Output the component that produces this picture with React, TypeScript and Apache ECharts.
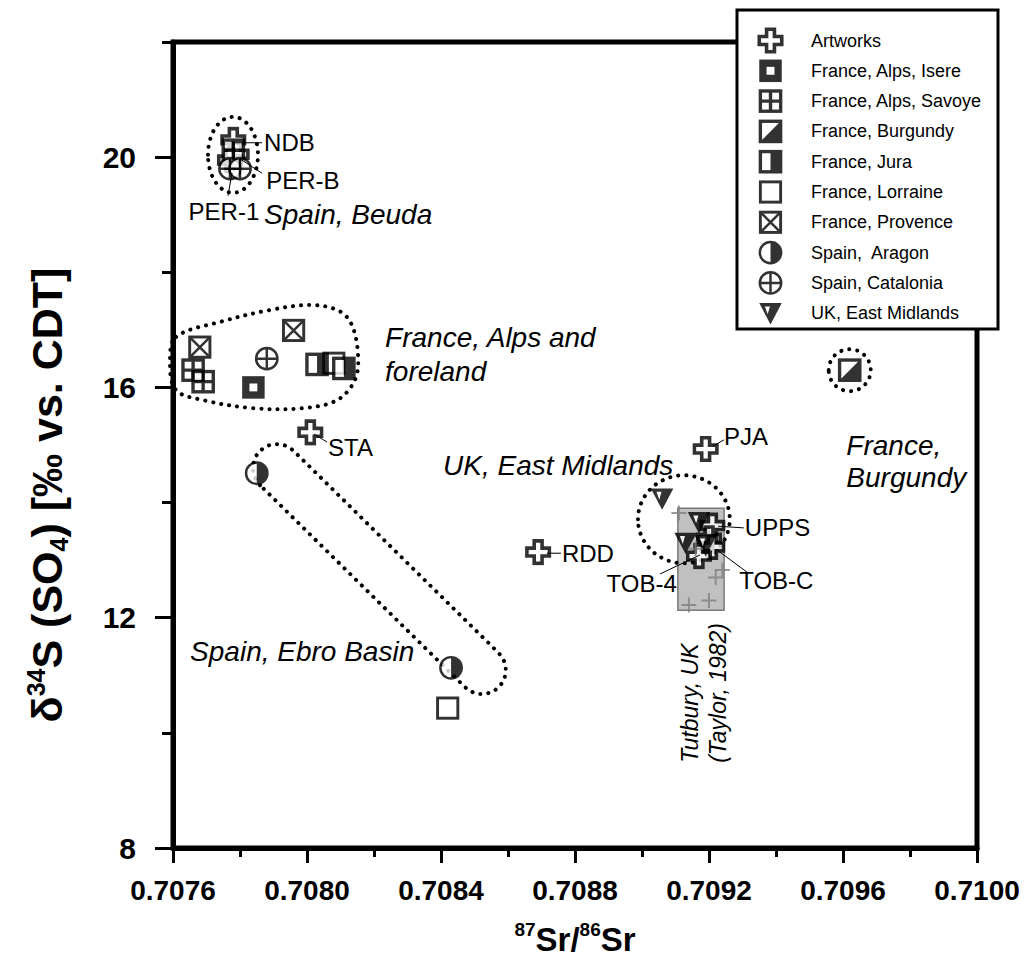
import React, { useEffect, useRef } from "react";
import * as echarts from "echarts";

const FONT = '"Liberation Sans", Arial, Helvetica, sans-serif';

// ---------- axis ticks ----------
const xMin = 0.7076;
const xMax = 0.71;
const xStep = 0.0004;
const yMin = 8;
const yMax = 22;
const yMajor = [8, 12, 16, 20];
const yMinor = [10, 14, 18, 22];

// ---------- legend categories ----------
const legendNames = [
  "Artworks",
  "France, Alps, Isere",
  "France, Alps, Savoye",
  "France, Burgundy",
  "France, Jura",
  "France, Lorraine",
  "France, Provence",
  "Spain,  Aragon",
  "Spain, Catalonia",
  "UK, East Midlands",
];

// ---------- data (87Sr/86Sr, d34S) ----------
const artworks = [
  [0.70778, 20.3], [0.70779, 20.05], [0.70777, 19.95], [0.70801, 15.22],
  [0.70869, 13.14], [0.70919, 14.93], [0.70921, 13.6], [0.7092, 13.38],
  [0.70921, 13.23], [0.70917, 13.07],
];
const isere = [[0.70784, 16.0]];
const savoye = [[0.70766, 16.3], [0.70769, 16.1], [0.70778, 20.12]];
const burgundy = [[0.70962, 16.3]];
const jura = [[0.70803, 16.4], [0.70811, 16.33]];
const lorraine = [[0.70808, 16.42], [0.70842, 10.43]];
const provence = [[0.70768, 16.7], [0.70796, 16.99]];
const aragon = [[0.70785, 14.51], [0.70843, 11.13]];
const catalonia = [[0.70788, 16.5], [0.70777, 19.8], [0.7078, 19.8]];
const ukEastMidlands = [[0.70906, 14.07], [0.70917, 13.66], [0.70913, 13.3], [0.70919, 13.26]];
const tutbury = [
  [0.70911, 13.82], [0.70916, 13.2], [0.70924, 12.83], [0.70922, 12.7],
  [0.7092, 12.3], [0.70914, 12.22],
];
const tutburyBox = [0.709107, 12.13, 0.709245, 13.9];

const seriesData = [artworks, isere, savoye, burgundy, jura, lorraine, provence, aragon, catalonia, ukEastMidlands];

// ---------- point labels (leader line from -> to, text at) ----------
const pointLabels = ["NDB", "PER-B", "PER-1", "STA", "RDD", "PJA", "UPPS", "TOB-C", "TOB-4"];
const labelFrom = [
  [0.70778, 20.25], [0.7078, 19.97], [0.707776, 19.72], [0.708021, 15.19], [0.708716, 13.12],
  [0.709212, 14.98], [0.709227, 13.59], [0.709221, 13.19], [0.709173, 13.09],
];
const labelTo = [
  [0.707866, 20.25], [0.707866, 19.72], [0.707764, 19.33], [0.70806, 15.05], [0.708758, 13.12],
  [0.709245, 15.09], [0.709304, 13.56], [0.709316, 12.78], [0.709054, 12.76],
];
const labelAt = [
  [0.707872, 20.25], [0.707878, 19.6], [0.707752, 19.05], [0.708063, 14.95], [0.708761, 13.12],
  [0.709245, 15.14], [0.709307, 13.56], [0.70929, 12.64], [0.709104, 12.6],
];
const labelAlign = ["left", "left", "center", "left", "left", "left", "left", "left", "right"];

// ---------- region notes ----------
const regionNotes = ["Spain, Beuda", "France, Alps and", "foreland", "UK, East Midlands", "France,", "Burgundy", "Spain, Ebro Basin"];
const regionAt = [
  [0.707872, 19.0], [0.708233, 16.86], [0.708233, 16.27], [0.708406, 14.64],
  [0.70961, 15.0], [0.70961, 14.44], [0.707651, 11.42],
];
const verticalNotes = ["Tutbury, UK", "(Taylor, 1982)"];
const verticalAt = [[0.709143, 9.48], [0.709227, 9.48]];

// ---------- dotted outlines ----------
const ellipses = [
  [0.707779, 20.04, 0.0000746, 0.66],
  [0.709125, 13.71, 0.000137, 0.764],
  [0.70962, 16.3, 0.0000627, 0.365],
];
const blobX = [0.707609, 0.70774, 0.70789, 0.708009, 0.70809, 0.708131, 0.708152, 0.708143, 0.70809, 0.707988, 0.707839, 0.70769, 0.707609, 0.707591];
const blobY = [16.876, 17.137, 17.345, 17.432, 17.345, 17.12, 16.6, 16.13, 15.78, 15.64, 15.64, 15.78, 15.955, 16.44];
const stadiumEnds = [[0.70791, 14.6], [0.708522, 11.09]];

// ---------- marker icons ----------
const svgIcon = (inner: string) =>
  "image://data:image/svg+xml;charset=utf-8," +
  encodeURIComponent(
    `<svg xmlns="http://www.w3.org/2000/svg" width="24" height="24" viewBox="0 0 24 24">${inner}</svg>`
  );
const sq = (w: number) => `<rect x="3" y="3" width="18" height="18" fill="#fff" stroke="#000" stroke-width="${w}"/>`;
const icons = [
  svgIcon(`<path d="M8.5,2H15.5V8.5H22V15.5H15.5V22H8.5V15.5H2V8.5H8.5Z" fill="#fff" stroke="#000" stroke-width="3.2"/>`),
  svgIcon(`<rect x="2" y="2" width="20" height="20" fill="#000"/><rect x="8.5" y="8.5" width="7" height="7" fill="#fff"/>`),
  svgIcon(sq(3) + `<path d="M12,3V21M3,12H21" stroke="#000" stroke-width="3"/>`),
  svgIcon(sq(3) + `<path d="M21,3V21H3Z" fill="#000"/>`),
  svgIcon(sq(3) + `<rect x="12" y="3" width="9" height="18" fill="#000"/>`),
  svgIcon(sq(2.6)),
  svgIcon(sq(2.6) + `<path d="M3,3L21,21M21,3L3,21" stroke="#000" stroke-width="2.2"/>`),
  svgIcon(`<circle cx="12" cy="12" r="9.5" fill="#fff" stroke="#000" stroke-width="2.2"/><path d="M12,2.5A9.5,9.5 0 0 1 12,21.5Z" fill="#000"/>`),
  svgIcon(`<circle cx="12" cy="12" r="9.5" fill="#fff" stroke="#000" stroke-width="2.2"/><path d="M12,2.5V21.5M2.5,12H21.5" stroke="#000" stroke-width="2.2"/>`),
  svgIcon(`<path d="M2,3H22L12,22Z" fill="#000"/><path d="M7,6H11.5L9.5,13Z" fill="#fff"/>`),
];

const dotted = { fill: "none", stroke: "#000", lineWidth: 4, lineDash: [0.1, 8], lineCap: "round" };

function buildOption() {
  const scatterSeries = legendNames.map((name, i) => ({
    type: "scatter",
    name,
    data: seriesData[i],
    symbol: icons[i],
    symbolSize: 27,
    z: i === 4 ? 4 : 3,
    silent: true,
    emphasis: { disabled: true },
  }));

  return {
    animation: false,
    backgroundColor: "#fff",
    grid: {
      left: 173,
      right: 51,
      top: 42,
      bottom: 115,
      show: true,
      borderColor: "#000",
      borderWidth: 5,
      backgroundColor: "transparent",
    },
    xAxis: {
      type: "value",
      min: xMin,
      max: xMax,
      interval: xStep,
      name: "{sup|87}{b|Sr/}{sup|86}{b|Sr}",
      nameLocation: "middle",
      nameGap: 72,
      nameTextStyle: {
        rich: {
          b: { fontSize: 33, fontWeight: "bold", fontFamily: FONT, color: "#000", lineHeight: 38 },
          sup: { fontSize: 19, fontWeight: "bold", fontFamily: FONT, color: "#000", lineHeight: 22, verticalAlign: "top" },
        },
      },
      axisLine: { show: true, lineStyle: { color: "#000", width: 5 } },
      axisTick: { show: true, length: 15, lineStyle: { color: "#000", width: 3 } },
      minorTick: { show: true, splitNumber: 2, length: 9, lineStyle: { color: "#000", width: 3 } },
      splitLine: { show: false },
      axisLabel: {
        margin: 28,
        fontSize: 28,
        fontWeight: "bold",
        fontFamily: FONT,
        color: "#000",
        formatter: (v: number) => v.toFixed(4),
      },
    },
    yAxis: [
      {
        type: "value",
        min: yMin,
        max: yMax,
        position: "left",
        name: "{b|δ}{sup|34}{b|S (SO}{sub|4}{b|) [‰ vs. CDT]}",
        nameLocation: "middle",
        nameGap: 102,
        nameRotate: 90,
        nameTextStyle: {
          padding: [0, 100, 0, 0],
          rich: {
            b: { fontSize: 43, fontWeight: "bold", fontFamily: FONT, color: "#000", lineHeight: 48 },
            sup: { fontSize: 25, fontWeight: "bold", fontFamily: FONT, color: "#000", lineHeight: 28, verticalAlign: "top" },
            sub: { fontSize: 25, fontWeight: "bold", fontFamily: FONT, color: "#000", lineHeight: 28, verticalAlign: "bottom" },
          },
        },
        axisLine: { show: true, lineStyle: { color: "#000", width: 5 } },
        axisTick: { show: true, length: 18, lineStyle: { color: "#000", width: 3 }, customValues: yMajor },
        splitLine: { show: false },
        axisLabel: {
          margin: 37,
          fontSize: 30,
          fontWeight: "bold",
          fontFamily: FONT,
          color: "#000",
          customValues: yMajor,
        },
      },
      {
        type: "value",
        min: yMin,
        max: yMax,
        position: "left",
        axisLine: { show: false },
        axisLabel: { show: false },
        splitLine: { show: false },
        axisTick: { show: true, length: 11, lineStyle: { color: "#000", width: 3 }, customValues: yMinor },
      },
    ],
    legend: {
      data: legendNames.map((n, i) => ({ name: n, icon: icons[i] })),
      orient: "vertical",
      left: 757,
      top: 27,
      padding: 0,
      itemWidth: 27,
      itemHeight: 27,
      itemGap: 3.3,
      selectedMode: false,
      z: 10,
      textStyle: { fontSize: 18, fontFamily: FONT, color: "#000", padding: [0, 0, 0, 22] },
    },
    graphic: {
      elements: [
        {
          type: "rect",
          z: 8,
          shape: { x: 737, y: 10, width: 261, height: 319 },
          style: { fill: "#fff", stroke: "#000", lineWidth: 3 },
          silent: true,
        },
      ],
    },
    series: [
      // Tutbury shaded range
      {
        type: "custom",
        silent: true,
        z: 1,
        data: [[tutburyBox[0], tutburyBox[1]]],
        renderItem: (params: any, api: any) => {
          const p0 = api.coord([tutburyBox[0], tutburyBox[3]]);
          const p1 = api.coord([tutburyBox[2], tutburyBox[1]]);
          return {
            type: "rect",
            shape: { x: p0[0], y: p0[1], width: p1[0] - p0[0], height: p1[1] - p0[1] },
            style: { fill: "#c0c0c0", stroke: "#7a7a7a", lineWidth: 1.5 },
          };
        },
      },
      // dotted ellipses
      {
        type: "custom",
        silent: true,
        z: 1,
        data: ellipses.map((e) => [e[0], e[1]]),
        renderItem: (params: any, api: any) => {
          const e = ellipses[params.dataIndex];
          const c = api.coord([e[0], e[1]]);
          const s = api.size([e[2], e[3]]);
          return { type: "ellipse", shape: { cx: c[0], cy: c[1], rx: s[0], ry: s[1] }, style: dotted };
        },
      },
      // France Alps blob
      {
        type: "custom",
        silent: true,
        z: 1,
        data: [[blobX[0], blobY[0]]],
        renderItem: (params: any, api: any) => {
          const pts = blobX.map((x, i) => api.coord([x, blobY[i]]));
          return { type: "polygon", shape: { points: pts, smooth: 0.35 }, style: dotted };
        },
      },
      // Ebro basin stadium
      {
        type: "custom",
        silent: true,
        z: 1,
        data: [stadiumEnds[0]],
        renderItem: (params: any, api: any) => {
          const a = api.coord(stadiumEnds[0]);
          const b = api.coord(stadiumEnds[1]);
          const r = 24;
          const ang = Math.atan2(b[1] - a[1], b[0] - a[0]);
          const pts: number[][] = [];
          const n = 14;
          for (let k = 0; k <= n; k++) {
            const t = ang + Math.PI / 2 + (Math.PI * k) / n;
            pts.push([a[0] + r * Math.cos(t), a[1] + r * Math.sin(t)]);
          }
          for (let k = 0; k <= n; k++) {
            const t = ang - Math.PI / 2 + (Math.PI * k) / n;
            pts.push([b[0] + r * Math.cos(t), b[1] + r * Math.sin(t)]);
          }
          return { type: "polygon", shape: { points: pts }, style: dotted };
        },
      },
      ...scatterSeries,
      // Tutbury samples
      {
        type: "scatter",
        name: "Tutbury",
        data: tutbury,
        symbol: "path://M0,5H10M5,0V10",
        symbolSize: 15,
        silent: true,
        z: 4,
        emphasis: { disabled: true },
        itemStyle: { color: "none", borderColor: "#808080", borderWidth: 2 },
      },
      // point labels with leader lines
      {
        type: "custom",
        silent: true,
        z: 5,
        data: labelAt,
        renderItem: (params: any, api: any) => {
          const i = params.dataIndex;
          const f = api.coord(labelFrom[i]);
          const t = api.coord(labelTo[i]);
          const p = api.coord(labelAt[i]);
          return {
            type: "group",
            children: [
              { type: "line", shape: { x1: f[0], y1: f[1], x2: t[0], y2: t[1] }, style: { stroke: "#000", lineWidth: 1 } },
              {
                type: "text",
                x: p[0],
                y: p[1],
                style: {
                  text: pointLabels[i],
                  fill: "#000",
                  fontSize: 24,
                  fontFamily: FONT,
                  align: labelAlign[i],
                  verticalAlign: "middle",
                },
              },
            ],
          };
        },
      },
      // region notes
      {
        type: "custom",
        silent: true,
        z: 5,
        data: regionAt,
        renderItem: (params: any, api: any) => {
          const i = params.dataIndex;
          const p = api.coord(regionAt[i]);
          return {
            type: "text",
            x: p[0],
            y: p[1],
            style: {
              text: regionNotes[i],
              fill: "#000",
              fontSize: 28,
              fontStyle: "italic",
              fontFamily: FONT,
              align: "left",
              verticalAlign: "middle",
            },
          };
        },
      },
      // vertical notes
      {
        type: "custom",
        silent: true,
        z: 5,
        data: verticalAt,
        renderItem: (params: any, api: any) => {
          const i = params.dataIndex;
          const p = api.coord(verticalAt[i]);
          return {
            type: "text",
            x: p[0],
            y: p[1],
            rotation: Math.PI / 2,
            style: {
              text: verticalNotes[i],
              fill: "#000",
              fontSize: 23,
              fontStyle: "italic",
              fontFamily: FONT,
              align: "left",
              verticalAlign: "middle",
            },
          };
        },
      },
    ],
  };
}

export default function App() {
  const ref = useRef<HTMLDivElement>(null);
  useEffect(() => {
    document.body.style.margin = "0";
    document.body.style.overflow = "hidden";
    const chart = echarts.init(ref.current as HTMLDivElement, null, { renderer: "svg" });
    chart.setOption(buildOption() as any);
    return () => chart.dispose();
  }, []);
  return <div ref={ref} style={{ width: 1028, height: 963 }} />;
}
